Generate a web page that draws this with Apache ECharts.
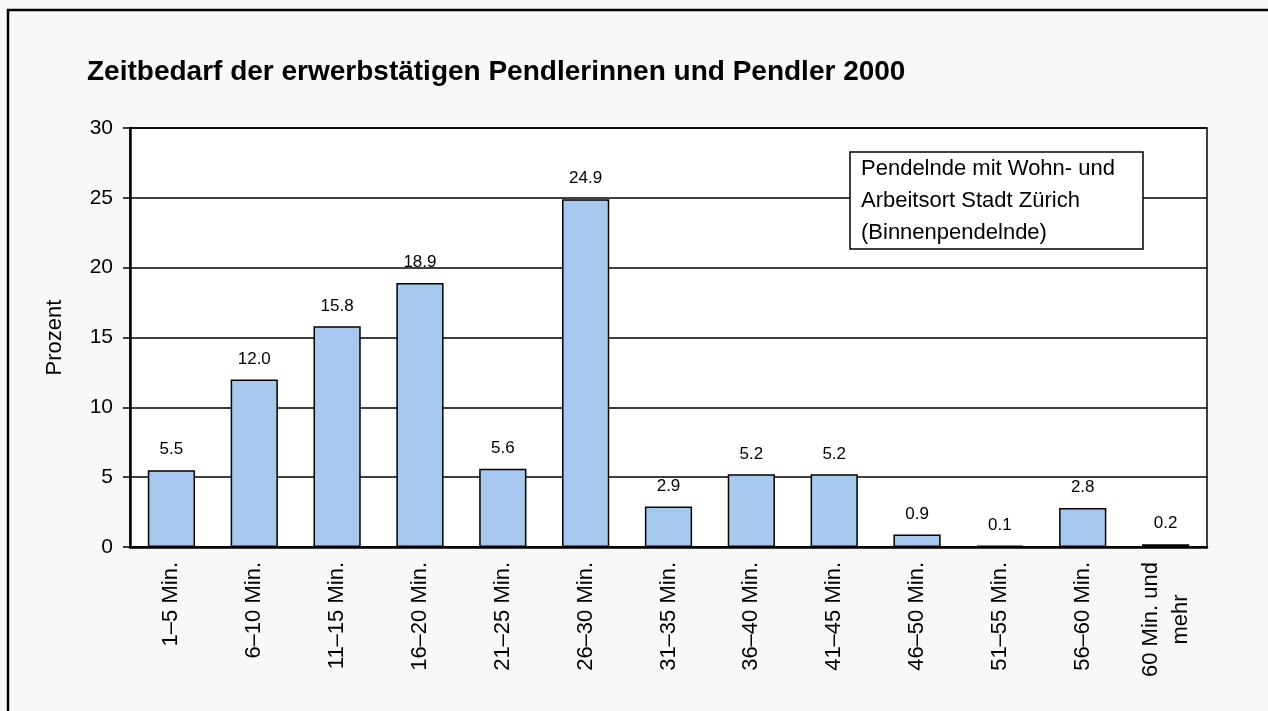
<!DOCTYPE html>
<html>
<head>
<meta charset="utf-8">
<title>Zeitbedarf Pendler 2000</title>
<script src="https://cdn.jsdelivr.net/npm/echarts@6/dist/echarts.min.js"></script>
<style>
  html, body { margin: 0; padding: 0; background: #f8f8f8; }
  #main { width: 1268px; height: 711px; }
</style>
</head>
<body>
<div id="main"></div>
<script>
// Kategorien (Zeitbedarf) und Anteile in Prozent
const categories = ['1–5 Min.', '6–10 Min.', '11–15 Min.', '16–20 Min.', '21–25 Min.', '26–30 Min.',
  '31–35 Min.', '36–40 Min.', '41–45 Min.', '46–50 Min.', '51–55 Min.', '56–60 Min.', '60 Min. und\nmehr'];
const values = [5.5, 12.0, 15.8, 18.9, 5.6, 24.9, 2.9, 5.2, 5.2, 0.9, 0.1, 2.8, 0.2];
const yTicks = [0, 5, 10, 15, 20, 25, 30];

const FONT = '"Liberation Sans", Arial, sans-serif';
const chart = echarts.init(document.getElementById('main'));

const option = {
  backgroundColor: '#f8f8f8',
  animation: false,
  textStyle: { fontFamily: FONT, color: '#000' },
  title: [
    {
      text: 'Zeitbedarf der erwerbstätigen Pendlerinnen und Pendler 2000',
      left: 82,
      top: 53,
      textStyle: { fontFamily: FONT, fontSize: 28, fontWeight: 'bold', color: '#000' }
    },
    {
      // Textkasten oben rechts
      text: 'Pendelnde mit Wohn- und\nArbeitsort Stadt Zürich\n(Binnenpendelnde)',
      left: 850,
      top: 152,
      padding: [1, 28, 0, 11],
      backgroundColor: '#fff',
      borderColor: '#000',
      borderWidth: 1.5,
      textStyle: { fontFamily: FONT, fontSize: 22, fontWeight: 'normal', color: '#000', lineHeight: 32 }
    }
  ],
  grid: {
    left: 130,
    right: 61,
    top: 128,
    bottom: 164,
    show: true,
    backgroundColor: '#fff',
    borderColor: '#000',
    borderWidth: 1.5
  },
  xAxis: {
    type: 'category',
    data: categories,
    axisLine: { lineStyle: { color: '#000', width: 2.5 } },
    axisTick: { show: false },
    axisLabel: {
      rotate: 90,
      interval: 0,
      margin: 15,
      fontSize: 22,
      color: '#000',
      fontFamily: FONT,
      formatter: v => v.indexOf('\n') >= 0 ? v.split('\n').map(s => '{c|' + s + '}').join('\n') : v,
      rich: { c: { align: 'center', fontSize: 22, fontFamily: FONT, color: '#000', lineHeight: 30 } }
    }
  },
  yAxis: {
    type: 'value',
    min: yTicks[0],
    max: yTicks[yTicks.length - 1],
    interval: 5,
    name: 'Prozent',
    nameLocation: 'middle',
    nameGap: 64,
    nameTextStyle: { fontSize: 22, color: '#000', fontFamily: FONT },
    axisLine: { show: true, lineStyle: { color: '#000', width: 2.5 } },
    axisTick: { show: true, length: 7, lineStyle: { color: '#000', width: 1.5 } },
    axisLabel: { fontSize: 21, color: '#000', margin: 17, fontFamily: FONT },
    splitLine: { lineStyle: { color: '#000', width: 1.5 } }
  },
  series: [{
    type: 'bar',
    data: values,
    barWidth: '57%',
    itemStyle: { color: '#a7c9ef', borderColor: '#000', borderWidth: 1.5 },
    label: {
      show: true,
      position: 'top',
      distance: 12,
      fontSize: 17,
      color: '#000',
      fontFamily: FONT,
      formatter: p => p.value.toFixed(1)
    }
  }],
  graphic: [{
    // äusserer Rahmen
    type: 'rect',
    silent: true,
    shape: { x: 8, y: 10, width: 1400, height: 900 },
    style: { fill: 'none', stroke: '#000', lineWidth: 2.5 }
  }]
};

chart.setOption(option);
</script>
</body>
</html>
